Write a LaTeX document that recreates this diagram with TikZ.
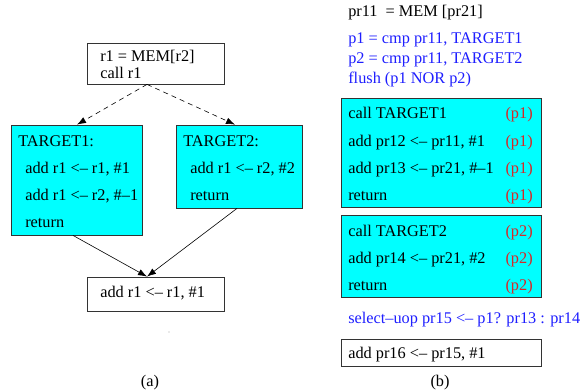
\documentclass[tikz,border=0pt]{standalone}
\usepackage{fontspec}
\setmainfont{Liberation Serif}
\usetikzlibrary{arrows.meta}
\definecolor{boxcyan}{RGB}{0,255,255}
\definecolor{opblue}{RGB}{30,30,255}
\definecolor{predred}{RGB}{215,40,40}

\begin{document}
\begin{tikzpicture}[x=1pt,y=-1pt,>={Latex[length=9pt,width=6.5pt]},line width=0.6pt,
  box/.style={rectangle,draw=black!80,line width=0.8pt,inner sep=0pt},
  tgt box/.style={box,fill=boxcyan},
  code/.style={anchor=base west,inner sep=0pt,font=\fontsize{16.3}{19}\selectfont},
  pred/.style={code,anchor=base east,text=predred},
  blue code/.style={code,text=opblue},
  sub label/.style={code,anchor=base}]
            \useasboundingbox (0,0) rectangle (584,391);

            % (a) control flow
            \node[box,minimum width=137pt,minimum height=41pt] (1) at (155.5,63.5) {};
            \node[tgt box,minimum width=131pt,minimum height=110pt] (2) at (76.5,180) {};
            \node[tgt box,minimum width=126pt,minimum height=83pt] (3) at (239,166.5) {};
            \node[box,minimum width=137pt,minimum height=34pt] (4) at (155.5,294) {};
            \coordinate (1s) at ([xshift=-8.5pt]1.south);
            \coordinate (4n) at ([xshift=-8.5pt]4.north);

            \node[code] (1a) at (100,61.7) {r1 = MEM[r2]};
            \node[code] (1b) at (100,78) {call r1};
            \node[code] (2a) at (18,146) {TARGET1:};
            \node[code] (2b) at (25,173) {add r1 <– r1, \#1};
            \node[code] (2c) at (25,200) {add r1 <– r2, \#–1};
            \node[code] (2d) at (25,227) {return};
            \node[code] (3a) at (183,146) {TARGET2:};
            \node[code] (3b) at (190,173) {add r1 <– r2, \#2};
            \node[code] (3c) at (190,200) {return};
            \node[code] (4a) at (100,297) {add r1 <– r1, \#1};
            \fill[black!35] (169,332) circle (0.6pt);
            \node[sub label] (la) at (150,386) {(a)};

            \path[->,dash pattern=on 5pt off 4pt]
                    (1s) edge ([xshift=0.5pt]2.north)
                    (1s) edge ([xshift=-4pt]3.north)
                ;
            \path[->]
                    ([xshift=-3.5pt]2.south) edge (4n)
                    ([xshift=-2pt]3.south) edge (4n)
                ;

            % (b) predicated code
            \node[code] (5a) at (348,16) {pr11\ \ = MEM [pr21]};
            \node[blue code] (5b) at (348,43) {p1 = cmp pr11, TARGET1};
            \node[blue code] (5c) at (348,63) {p2 = cmp pr11, TARGET2};
            \node[blue code] (5d) at (348,83) {flush (p1 NOR p2)};

            \node[tgt box,minimum width=200pt,minimum height=109pt] (6) at (441,152.5) {};
            \node[code] (6a) at (348,118) {call TARGET1};
            \node[code] (6b) at (348,146) {add pr12 <– pr11, \#1};
            \node[code] (6c) at (348,173) {add pr13 <– pr21, \#–1};
            \node[code] (6d) at (348,200) {return};
            \foreach \y [count=\i] in {118,146,173,200}
                \node[pred] (6p\i) at (533,\y) {(p1)};

            \node[tgt box,minimum width=200pt,minimum height=82pt] (7) at (441,256) {};
            \node[code] (7a) at (348,236) {call TARGET2};
            \node[code] (7b) at (348,263) {add pr14 <– pr21, \#2};
            \node[code] (7c) at (348,290) {return};
            \foreach \y [count=\i] in {236,263,290}
                \node[pred] (7p\i) at (533,\y) {(p2)};

            \node[blue code] (8a) at (348,323) {select–uop pr15 <– p1? pr13 : pr14};
            \node[box,minimum width=200pt,minimum height=27pt] (9) at (441,352.5) {};
            \node[code] (9a) at (348,358) {add pr16 <– pr15, \#1};
            \node[sub label] (lb) at (440,386) {(b)};
        \end{tikzpicture}
\end{document}
